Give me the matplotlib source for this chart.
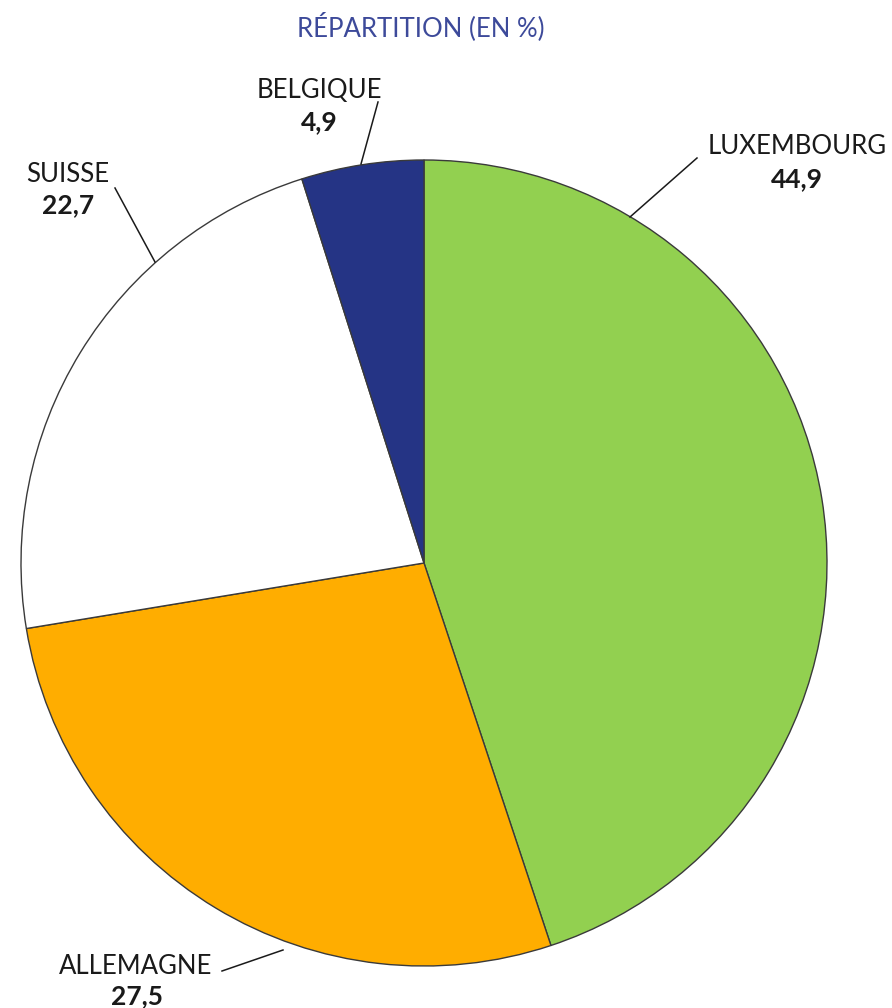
import matplotlib
matplotlib.use("Agg")
import matplotlib.pyplot as plt

# Données
pays = ["LUXEMBOURG", "ALLEMAGNE", "SUISSE", "BELGIQUE"]
valeurs = [44.9, 27.5, 22.7, 4.9]
etiquettes = ["44,9", "27,5", "22,7", "4,9"]
couleurs = ["#92d050", "#ffad00", "#ffffff", "#253485"]

plt.rcParams['font.family'] = ['Lato', 'DejaVu Sans']

W, H = 892, 1008
fig = plt.figure(figsize=(W / 100, H / 100), dpi=100)
ax = fig.add_axes([0, 0, 1, 1])

def yy(y):
    # coordonnées pixel (haut -> bas) vers axes
    return H - y

# Camembert
ax.pie(valeurs, colors=couleurs, startangle=90, counterclock=False,
       center=(424, yy(563)), radius=403, frame=True,
       wedgeprops=dict(edgecolor="#3a3a3a", linewidth=1.0))
ax.set_xlim(0, W)
ax.set_ylim(0, H)
ax.set_aspect('equal')
ax.axis('off')

# Titre
ax.text(421, yy(27), "RÉPARTITION (EN %)", ha='center', va='center',
        fontsize=18.5, color="#3d4a9a")

# Positions des étiquettes (centre du nom, centre de la valeur) et traits
pos_nom = [(797, 146), (136, 966), (68, 174), (319, 90)]
pos_val = [(797, 179), (137, 996), (68, 205), (319, 122)]
traits = [((697, 158), (630, 217)),
          ((222, 971), (283, 950)),
          ((115, 188), (155, 262)),
          ((378, 102), (361, 164))]

for i in range(len(pays)):
    ax.text(pos_nom[i][0], yy(pos_nom[i][1]), pays[i], ha='center', va='center',
            fontsize=18.5, color="#1a1a1a")
    ax.text(pos_val[i][0], yy(pos_val[i][1]), etiquettes[i], ha='center', va='center',
            fontsize=19, fontweight='bold', color="#1a1a1a")
    (x1, y1), (x2, y2) = traits[i]
    ax.plot([x1, x2], [yy(y1), yy(y2)], color="#1a1a1a", linewidth=1.1)

fig.savefig("out.png", dpi=100, facecolor="white")
